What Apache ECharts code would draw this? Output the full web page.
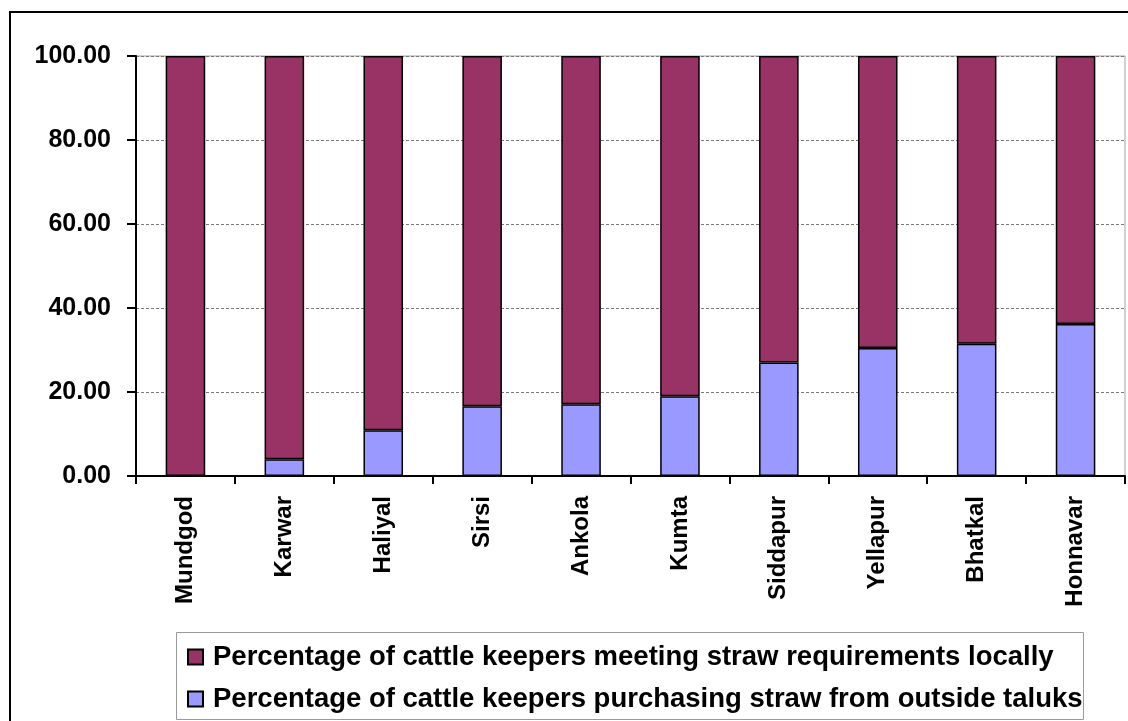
<!DOCTYPE html>
<html>
<head>
<meta charset="utf-8">
<title>Straw sourcing by taluk</title>
<script src="https://cdn.jsdelivr.net/npm/echarts@6/dist/echarts.min.js"></script>
<style>
  html, body { margin: 0; padding: 0; background: #fff; }
  #chart { width: 1128px; height: 721px; }
</style>
</head>
<body>
<div id="chart"></div>
<script>
// Taluks, in the order they are plotted
const taluks = ['Mundgod', 'Karwar', 'Haliyal', 'Sirsi', 'Ankola', 'Kumta', 'Siddapur', 'Yellapur', 'Bhatkal', 'Honnavar'];

// Share of cattle keepers (%) buying straw from outside the taluk
const purchasingOutside = [0.0, 4.0, 10.9, 16.6, 17.1, 19.0, 27.0, 30.5, 31.5, 36.2];

// Share of cattle keepers (%) meeting straw needs locally
const meetingLocally = [100.0, 96.0, 89.1, 83.4, 82.9, 81.0, 73.0, 69.5, 68.5, 63.8];

const seriesNames = [
  'Percentage of cattle keepers meeting straw requirements locally',
  'Percentage of cattle keepers purchasing straw from outside taluks'
];

const FONT = '"Liberation Sans", Arial, sans-serif';

// One legend entry per row, stacked inside the framed key box
function legendRow(name, top) {
  return {
    data: [name],
    orient: 'vertical',
    left: 187,
    top: top,
    padding: 0,
    itemWidth: 15,
    itemHeight: 15,
    icon: 'rect',
    selectedMode: false,
    textStyle: { fontFamily: FONT, fontWeight: 'bold', fontSize: 27.5, color: '#000', padding: [0, 0, 0, 5] },
    z: 5
  };
}

const chart = echarts.init(document.getElementById('chart'), null, { renderer: 'canvas' });

chart.setOption({
  animation: false,
  backgroundColor: '#ffffff',
  graphic: [
    {
      type: 'rect',
      shape: { x: 10, y: 12, width: 1140, height: 740 },
      style: { fill: 'none', stroke: '#000', lineWidth: 2 },
      silent: true
    },
    {
      type: 'rect',
      shape: { x: 176.5, y: 632.5, width: 907, height: 87 },
      style: { fill: '#fff', stroke: '#9a9a9a', lineWidth: 1 },
      silent: true,
      z: 0
    }
  ],
  grid: {
    left: 136,
    top: 56,
    right: 3,
    bottom: 245,
    show: true,
    borderColor: '#a0a0a0',
    borderWidth: 1,
    containLabel: false
  },
  legend: [
    legendRow(seriesNames[0], 643),
    legendRow(seriesNames[1], 685)
  ],
  xAxis: {
    type: 'category',
    data: taluks,
    axisLine: { lineStyle: { color: '#000', width: 2 } },
    axisTick: { show: true, alignWithLabel: false, length: 8, inside: false, lineStyle: { color: '#000', width: 2 } },
    axisLabel: {
      rotate: 90,
      margin: 20,
      interval: 0,
      fontFamily: FONT,
      fontWeight: 'bold',
      fontSize: 24,
      color: '#000'
    }
  },
  yAxis: {
    type: 'value',
    min: 0,
    max: 100,
    interval: 20,
    axisLine: { show: true, lineStyle: { color: '#000', width: 2 } },
    axisTick: { show: true, length: 9, lineStyle: { color: '#000', width: 2 } },
    axisLabel: {
      margin: 25,
      fontFamily: FONT,
      fontWeight: 'bold',
      fontSize: 25,
      color: '#000',
      formatter: v => v.toFixed(2)
    },
    splitLine: { show: true, lineStyle: { color: '#7a7a7a', type: [3, 2], width: 1 } }
  },
  series: [
    {
      name: seriesNames[1],
      type: 'bar',
      stack: 'share',
      data: purchasingOutside,
      barWidth: '40%',
      itemStyle: { color: '#9999ff', borderColor: '#000', borderWidth: 1.5 }
    },
    {
      name: seriesNames[0],
      type: 'bar',
      stack: 'share',
      data: meetingLocally,
      barWidth: '40%',
      itemStyle: { color: '#993366', borderColor: '#000', borderWidth: 1.5 }
    }
  ]
});
</script>
</body>
</html>
